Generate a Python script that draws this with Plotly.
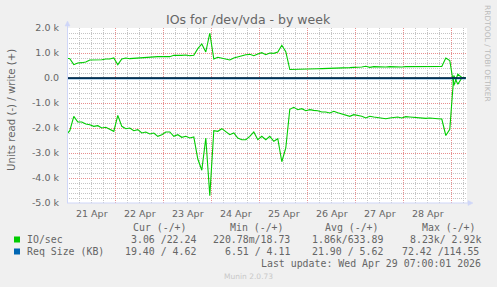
import plotly.graph_objects as go
import pandas as pd

# ---------------- data ----------------
# hours since 2026-04-21 00:00, 2-hour samples
hours = list(range(-1, 200, 2))

write_ios = [
    800, 773, 533, 600, 613, 640, 720, 720, 747, 733, 760, 760, 800, 533, 760, 800, 773, 787, 800, 813, 840, 827, 840, 853, 853, 840,
    853, 907, 893, 907, 920, 893, 907, 1173, 1360, 1040, 1800, 760, 827, 800, 773, 720, 800, 853, 907, 933, 947, 893, 960, 1013, 933,
    1000, 987, 1040, 1307, 1050, 340, 340, 347, 350, 355, 360, 365, 370, 373, 375, 380, 385, 387, 390, 400, 413, 427, 427, 440, 467,
    427, 453, 440, 427, 440, 453, 440, 453, 440, 453, 453, 440, 453, 453, 440, 453, 440, 453, 460, 800, 700, -300, 150, 20, 22,
]

read_ios = [
    -2293, -2106, -1533, -1760, -1760, -1840, -1867, -1933, -1907, -2000, -1973, -2067, -2133, -1493, -1933, -2027, -2000, -2107, -2067, -2200, -2160, -2240, -2200, -2333, -2267, -2160,
    -2160, -2333, -2267, -2373, -2333, -2400, -2360, -3240, -3690, -2400, -4707, -2107, -2133, -2027, -2133, -2267, -2200, -2400, -2467, -2467, -2333, -2160, -2467, -2333, -2467,
    -2333, -2533, -2427, -3350, -2800, -1250, -1173, -1267, -1227, -1307, -1267, -1293, -1307, -1360, -1360, -1400, -1333, -1387, -1440, -1467, -1533, -1467, -1493, -1533, -1600,
    -1533, -1560, -1573, -1600, -1627, -1600, -1587, -1560, -1600, -1547, -1560, -1573, -1600, -1600, -1613, -1600, -1627, -1627, -1640, -2300, -2050, 100, -250, 0, 0,
]

req_hours = [-1, 23, 47, 71, 95, 119, 143, 167, 191, 199]
req_read = [-19, -22, -24, -30, -25, -20, -21, -20, -23, -19.4]
req_write = [4.5, 5.5, 6.0, 6.5, 6.0, 5.5, 5.5, 5.2, 5.0, 4.6]

zero_hours = [-1, 199]
zero_vals = [0, 0]

day_midnights = [0, 24, 48, 72, 96, 120, 144, 168, 192]
day_label_hours = [12, 36, 60, 84, 108, 132, 156, 180]
day_labels = ["21 Apr", "22 Apr", "23 Apr", "24 Apr", "25 Apr", "26 Apr", "27 Apr", "28 Apr"]

ytick_vals = [-5000, -4000, -3000, -2000, -1000, 0, 1000, 2000]
ytick_text = ["-5.0 k", "-4.0 k", "-3.0 k", "-2.0 k", "-1.0 k", "0.0", "1.0 k", "2.0 k"]

legend_names = ["IO/sec", "Req Size (KB)"]
legend_colors = ["#00CC00", "#0066B3"]
col_headers = ["Cur (-/+)", "Min (-/+)", "Avg (-/+)", "Max (-/+)"]
cur_vals = ["3.06 /22.24", "19.40 / 4.62"]
min_vals = ["220.78m/18.73", "6.51 / 4.11"]
avg_vals = ["1.86k/633.89", "21.90 / 5.62"]
max_vals = ["8.23k/ 2.92k", "72.42 /114.55"]
last_update = "Last update: Wed Apr 29 07:00:01 2026"

# ---------------- helpers ----------------
base = pd.Timestamp("2026-04-21")


def t(h):
    return base + pd.to_timedelta(h, unit="h")


W, H = 497, 287
L, R, T, B = 67, 30, 28, 84
PW, PH = W - L - R, H - T - B


def px(x):
    return (x - L) / PW


def py(y):
    return (H - B - y) / PH


FONT = "DejaVu Sans"
MONO = "DejaVu Sans Mono"
TXT = "#666666"
AXIS = "#CFD6F8"
MAJ = "#E88E8E"
MIN = "#C4C4C4"

fig = go.Figure()

fig.add_trace(go.Scatter(x=[t(h) for h in hours], y=read_ios, mode="lines",
                         line=dict(color="#00CC00", width=1.1), hoverinfo="skip"))
fig.add_trace(go.Scatter(x=[t(h) for h in hours], y=write_ios, mode="lines",
                         line=dict(color="#00CC00", width=1.1), hoverinfo="skip"))
fig.add_trace(go.Scatter(x=[t(h) for h in req_hours], y=req_read, mode="lines",
                         line=dict(color="#0066B3", width=1.5), hoverinfo="skip"))
fig.add_trace(go.Scatter(x=[t(h) for h in req_hours], y=req_write, mode="lines",
                         line=dict(color="#0066B3", width=1), hoverinfo="skip"))
fig.add_trace(go.Scatter(x=[t(h) for h in zero_hours], y=zero_vals, mode="lines",
                         line=dict(color="#000000", width=1.2), hoverinfo="skip"))

fig.update_layout(
    width=W, height=H,
    margin=dict(l=L, r=R, t=T, b=B, pad=0),
    paper_bgcolor="#F0F0F0", plot_bgcolor="#FFFFFF",
    showlegend=False,
    xaxis=dict(
        type="date", range=[t(-0.4), t(199.6)],
        tickmode="array", tickvals=[t(h) for h in day_midnights],
        showticklabels=False, ticks="",
        showgrid=True, gridcolor=MAJ, griddash="1px,1px", gridwidth=1,
        minor=dict(dtick=6 * 3600 * 1000, tick0=base, showgrid=True,
                   gridcolor=MIN, griddash="1px,1px", gridwidth=1, ticks=""),
        zeroline=False, showline=False, fixedrange=True,
    ),
    yaxis=dict(
        range=[-5000, 2000], tickmode="array", tickvals=ytick_vals, ticktext=ytick_text,
        ticks="", ticklabelstandoff=7,
        tickfont=dict(family=FONT, size=9.5, color=TXT),
        showgrid=True, gridcolor=MAJ, griddash="1px,1px", gridwidth=1,
        minor=dict(dtick=200, tick0=0, showgrid=True, gridcolor=MIN,
                   griddash="1px,1px", gridwidth=1, ticks=""),
        zeroline=False, showline=False, fixedrange=True,
    ),
)

shapes = []
# axis lines and arrows
shapes.append(dict(type="line", xref="paper", yref="paper", x0=px(67.5), x1=px(67.5),
                   y0=py(203), y1=py(24), line=dict(color=AXIS, width=1)))
shapes.append(dict(type="line", xref="paper", yref="paper", x0=px(67), x1=px(469),
                   y0=py(203), y1=py(203), line=dict(color=AXIS, width=1)))
shapes.append(dict(type="path", xref="paper", yref="paper",
                   path=f"M {px(65)} {py(26)} L {px(70)} {py(26)} L {px(67.5)} {py(21)} Z",
                   fillcolor=AXIS, line=dict(color=AXIS, width=0.5)))
shapes.append(dict(type="path", xref="paper", yref="paper",
                   path=f"M {px(468)} {py(200.5)} L {px(468)} {py(205.5)} L {px(473)} {py(203)} Z",
                   fillcolor=AXIS, line=dict(color=AXIS, width=0.5)))
# legend swatches
for i, c in enumerate(legend_colors):
    yc = 239.5 + 12 * i
    shapes.append(dict(type="rect", xref="paper", yref="paper",
                       x0=px(14), x1=px(20), y0=py(yc + 3), y1=py(yc - 3),
                       fillcolor=c, line=dict(width=0)))
fig.update_layout(shapes=shapes)

ann = []


def add_text(text, x, y, anchor="left", size=9.9, family=MONO, color=TXT, angle=0):
    ann.append(dict(text=text, xref="paper", yref="paper", x=px(x), y=py(y),
                    xanchor=anchor, yanchor="middle", showarrow=False, textangle=angle,
                    font=dict(family=family, size=size, color=color), borderpad=0))


# title and axis title
add_text("IOs for /dev/vda - by week", 248.8, 19.5, "center", 12.5, FONT, TXT)
add_text("Units read (-) / write (+)", 12, 110, "center", 10.2, FONT, TXT, -90)
add_text("RRDTOOL / TOBI OETIKER", 488, 53, "center", 7.5, FONT, "#BBBBBB", 90)
add_text("Munin 2.0.73", 248, 276, "center", 7.5, FONT, "#C8C8C8")

# day labels (through the x axis scale)
for h, lab in zip(day_label_hours, day_labels):
    ann.append(dict(text=lab, xref="x", yref="paper", x=t(h), y=0, yshift=-10,
                    xanchor="center", yanchor="middle", showarrow=False,
                    font=dict(family=FONT, size=9.5, color=TXT)))

# legend table
header_right = [187.5, 284.5, 380, 476.7]
for txt, xr in zip(col_headers, header_right):
    add_text(txt, xr, 227.7, "right")
max_right = [482.3, 480]
for i, name in enumerate(legend_names):
    yc = 239.7 + 12 * i
    add_text(name, 26.3, yc, "left")
    add_text(cur_vals[i], 196.7, yc, "right")
    add_text(min_vals[i], 290.7, yc, "right")
    add_text(avg_vals[i], 384, yc, "right")
    add_text(max_vals[i], max_right[i], yc, "right")
add_text(last_update, 482.3, 263.7, "right")

fig.update_layout(annotations=ann)

fig.write_html("out.html", config={"displayModeBar": False})
